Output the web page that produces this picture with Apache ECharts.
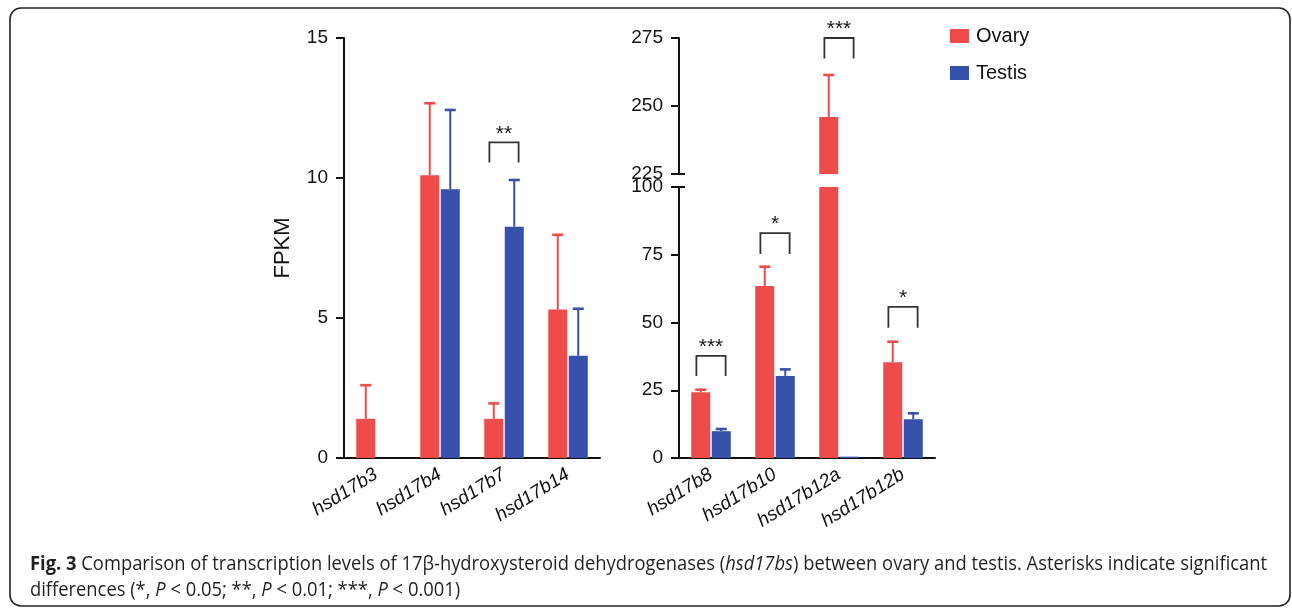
<!DOCTYPE html>
<html><head><meta charset="utf-8">
<script src="https://cdn.jsdelivr.net/npm/echarts@6/dist/echarts.min.js"></script>
<style>html,body{margin:0;padding:0;background:#fff}#c{width:1292px;height:609px}</style>
</head><body><div id="c"></div>
<script>
// ---- data ----
const leftGenes = ['hsd17b3', 'hsd17b4', 'hsd17b7', 'hsd17b14'];
const leftOvary = [1.4, 10.1, 1.4, 5.3];
const leftOvaryErr = [1.2, 2.57, 0.55, 2.67];
const leftTestis = [0, 9.6, 8.26, 3.65];
const leftTestisErr = [0, 2.83, 1.67, 1.68];

const rightGenes = ['hsd17b8', 'hsd17b10', 'hsd17b12a', 'hsd17b12b'];
const rightOvary = [24.3, 63.5, 246, 35.3];
const rightOvaryErr = [0.9, 7.1, 15.4, 7.6];
const rightTestis = [9.9, 30.3, 0.5, 14.3];
const rightTestisErr = [0.8, 2.4, 0, 2.2];

const leftRange = [0, 15, 5];
const lowerRange = [0, 100, 25];
const upperRange = [225, 275, 25];

// significance brackets: [category index, bracket top, leg end, label]
const sigLeft = [[2, 11.27, 10.55, '**']];
const sigLower = [[0, 37.7, 30.3, '***'], [1, 83, 75.3, '*'], [3, 55.8, 48.1, '*']];
const sigUpper = [[2, 275, 267.5, '***']];

const seriesNames = ['Ovary', 'Testis'];
const captionLine1 = [['b', 'Fig. 3'], ['n', ' Comparison of transcription levels of 17β-hydroxysteroid dehydrogenases ('], ['i', 'hsd17bs'], ['n', ') between ovary and testis. Asterisks indicate significant']];
const captionLine2 = [['n', 'differences (*, '], ['i', 'P'], ['n', ' < 0.05; **, '], ['i', 'P'], ['n', ' < 0.01; ***, '], ['i', 'P'], ['n', ' < 0.001)']];

// ---- style ----
const RED = '#EE4B4B', BLUE = '#3551AB';
const FONT = '"Liberation Sans", Arial, sans-serif';
const CAPFONT = '"Open Sans", sans-serif';
const BW = 19, GAPR = 0.08;
const OFF = BW * (1 + GAPR) / 2;

const chart = echarts.init(document.getElementById('c'), null, {renderer: 'canvas'});

function xAx(gi, cats, show) {
  return {
    type: 'category', gridIndex: gi, data: cats, show: show,
    axisLine: {show: true, lineStyle: {color: '#111', width: 2}},
    axisTick: {show: false},
    axisLabel: {rotate: 32, margin: 15, fontSize: 19, fontStyle: 'italic', fontFamily: FONT, color: '#111'},
    splitLine: {show: false}
  };
}
function yAx(gi, r, extra) {
  return Object.assign({
    type: 'value', gridIndex: gi, min: r[0], max: r[1], interval: r[2],
    axisLine: {show: true, lineStyle: {color: '#111', width: 2}},
    axisTick: {show: true, length: 8, lineStyle: {color: '#111', width: 2}},
    axisLabel: {fontSize: 19, fontFamily: FONT, color: '#111', margin: 16},
    splitLine: {show: false}
  }, extra || {});
}

function errRender(limitMax) {
  return function (params, api) {
    const i = api.value(0), v = api.value(1), e = api.value(2), side = api.value(3);
    if (!(e > 0)) return null;
    if (v > limitMax) return null;
    const b = api.coord([i, v]);
    const t = api.coord([i, v + e]);
    const x = b[0] + side * OFF;
    const color = side < 0 ? RED : BLUE;
    return {type: 'group', children: [
      {type: 'line', shape: {x1: x, y1: b[1], x2: x, y2: t[1]}, style: {stroke: color, lineWidth: 2}},
      {type: 'line', shape: {x1: x - 5.5, y1: t[1], x2: x + 5.5, y2: t[1]}, style: {stroke: color, lineWidth: 2.6}}
    ]};
  };
}
const sigAll = {};
function sigRender(params, api) {
  const i = api.value(0), top = api.value(1), leg = api.value(2);
  const lab = sigAll[params.seriesIndex][params.dataIndex][3];
  const p = api.coord([i, top]);
  const q = api.coord([i, leg]);
  const c = p[0], hw = 14.6;
  return {type: 'group', children: [
    {type: 'polyline', shape: {points: [[c - hw, q[1]], [c - hw, p[1]], [c + hw, p[1]], [c + hw, q[1]]]},
      style: {stroke: '#333', lineWidth: 1.8, fill: null}},
    {type: 'text', x: c, y: p[1] + 2, style: {text: lab, font: '21px ' + FONT, fill: '#1a1a1a', align: 'center', verticalAlign: 'bottom'}}
  ]};
}

function errData(ov, ovE, te, teE) {
  const d = [];
  ov.forEach((v, i) => d.push([i, v, ovE[i], -1]));
  te.forEach((v, i) => d.push([i, v, teE[i], 1]));
  return d;
}

const series = [];
function addPanel(gi, ov, ovE, te, teE, sig, limitMax) {
  series.push({type: 'bar', name: seriesNames[0], xAxisIndex: gi, yAxisIndex: gi, data: ov, barWidth: BW, barGap: (GAPR * 100) + '%', itemStyle: {color: RED}, clip: true, silent: true});
  series.push({type: 'bar', name: seriesNames[1], xAxisIndex: gi, yAxisIndex: gi, data: te, barWidth: BW, barGap: (GAPR * 100) + '%', itemStyle: {color: BLUE}, clip: true, silent: true});
  series.push({type: 'custom', xAxisIndex: gi, yAxisIndex: gi, data: errData(ov, ovE, te, teE), renderItem: errRender(limitMax), clip: true, silent: true, z: 3});
  if (sig.length) {
    sigAll[series.length] = sig;
    series.push({type: 'custom', xAxisIndex: gi, yAxisIndex: gi, data: sig.map(s => [s[0], s[1], s[2]]), renderItem: sigRender, silent: true, z: 4});
  }
}
addPanel(0, leftOvary, leftOvaryErr, leftTestis, leftTestisErr, sigLeft, leftRange[1]);
addPanel(1, rightOvary, rightOvaryErr, rightTestis, rightTestisErr, sigLower, lowerRange[1]);
addPanel(2, rightOvary, rightOvaryErr, rightTestis, rightTestisErr, sigUpper, upperRange[1]);

const option = {
  animation: false,
  backgroundColor: '#fff',
  grid: [
    {left: 344, top: 38, width: 256, height: 420},
    {left: 679, top: 187, width: 256, height: 271},
    {left: 679, top: 38, width: 256, height: 136}
  ],
  xAxis: [xAx(0, leftGenes, true), xAx(1, rightGenes, true), xAx(2, rightGenes, false)],
  yAxis: [
    yAx(0, leftRange, {name: 'FPKM', nameLocation: 'middle', nameGap: 50, nameTextStyle: {fontSize: 22, fontFamily: FONT, color: '#111'}}),
    yAx(1, lowerRange),
    yAx(2, upperRange)
  ],
  legend: {
    data: seriesNames.map(n => ({name: n, icon: 'rect'})),
    orient: 'vertical', left: 950, top: 26, padding: 0, itemWidth: 19, itemHeight: 14, itemGap: 17,
    textStyle: {fontSize: 20, fontFamily: FONT, color: '#111', padding: [0, 0, 0, 2]}, selectedMode: false
  },
  series: series
};
chart.setOption(option);

// ---- decorations: axis extension, break marks, frame, caption ----
const ctx = document.createElement('canvas').getContext('2d');
function measure(parts, size) {
  let w = 0;
  parts.forEach(([k, t]) => {
    ctx.font = (k === 'i' ? 'italic ' : '') + (k === 'b' ? 'bold ' : '') + size + 'px ' + CAPFONT;
    w += ctx.measureText(t).width;
  });
  return w;
}
function richText(parts) { return parts.map(([k, t]) => '{' + k + '|' + t + '}').join(''); }
const capSize = 19.5;
const capX = 30, capRight = 1267;
const sx = (capRight - capX) / measure(captionLine1, capSize);
const rich = {
  n: {fontSize: capSize, fontFamily: CAPFONT, color: '#231f20'},
  i: {fontSize: capSize, fontFamily: CAPFONT, fontStyle: 'italic', color: '#231f20'},
  b: {fontSize: capSize, fontFamily: CAPFONT, fontWeight: 'bold', color: '#231f20'}
};

const g0 = chart.getModel().getComponent('grid', 0).coordinateSystem.getRect();
const g2 = chart.getModel().getComponent('grid', 2).coordinateSystem.getRect();
const yBreakUp = chart.convertToPixel({yAxisIndex: 2}, upperRange[0]);
const yBreakLo = chart.convertToPixel({yAxisIndex: 1}, lowerRange[1]);

chart.setOption({
  graphic: [
    {type: 'rect', shape: {x: 10, y: 8, width: 1280, height: 598, r: 11}, style: {fill: null, stroke: '#222', lineWidth: 1.6}, silent: true, z: 0},
    {type: 'line', shape: {x1: g0.x - 8, y1: g0.y + g0.height, x2: g0.x, y2: g0.y + g0.height}, style: {stroke: '#111', lineWidth: 2}, z: 10},
    {type: 'line', shape: {x1: g2.x - 6, y1: yBreakUp, x2: g2.x + 6, y2: yBreakUp}, style: {stroke: '#111', lineWidth: 2}, z: 10},
    {type: 'line', shape: {x1: g2.x - 6, y1: yBreakLo, x2: g2.x + 6, y2: yBreakLo}, style: {stroke: '#111', lineWidth: 2}, z: 10},
    {type: 'text', x: capX, y: 564, scaleX: sx, style: {text: richText(captionLine1), rich: rich, font: capSize + 'px ' + CAPFONT, fill: '#231f20', verticalAlign: 'middle'}, z: 10},
    {type: 'text', x: capX, y: 590, scaleX: sx, style: {text: richText(captionLine2), rich: rich, font: capSize + 'px ' + CAPFONT, fill: '#231f20', verticalAlign: 'middle'}, z: 10}
  ]
});
</script>
</body></html>
